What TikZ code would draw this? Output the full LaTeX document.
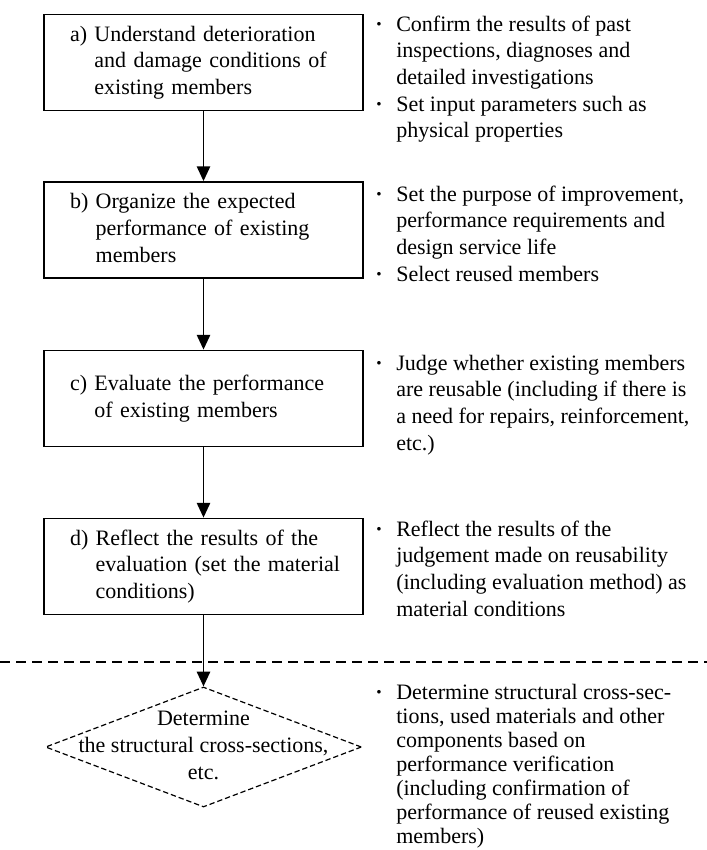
\documentclass[tikz,border=0pt]{standalone}
\usepackage{fontspec}
\setmainfont{Liberation Serif}
\usetikzlibrary{arrows.meta,shapes.geometric}
% bullet column: a centred dot followed by a fixed gap
\newcommand\bulletdot{\makebox[15.75pt][l]{\textbf{·}}}
\begin{document}
\begin{tikzpicture}[x=0.75pt,y=-0.75pt,
  every node/.style={font=\fontsize{16.5pt}{20pt}\selectfont, inner sep=0pt},
  stepbox/.style={draw, line width=1.4pt, minimum width={319*0.75pt},
    minimum height={96*0.75pt}, text width={267*0.75pt}, align=left},
  decision/.style={shape=diamond, draw, line width=0.9pt,
    dash pattern=on 4pt off 2.2pt, minimum width={316*0.75pt},
    minimum height={120*0.75pt}},
  notes/.style={anchor=base west, align=left},
  flow/.style={line width=1.1pt, -{Triangle[length=11pt,width=10pt]}},
  sepline/.style={line width=0.9pt, dash pattern=on 7.5pt off 4.5pt}]
\useasboundingbox (0,0) rectangle (707,850);

% process steps
\node[stepbox] (a) at (203.5,62.5) {\begin{tabular}{@{}l@{\ }l@{}}a) & Understand deterioration\\ & and damage conditions of\\ & existing members\end{tabular}};
\node[stepbox] (b) at (203.5,230) {\begin{tabular}{@{}l@{\ }l@{}}b) & Organize the expected\\ & performance of existing\\ & members\end{tabular}};
\node[stepbox] (c) at (203.5,398.5) {\begin{tabular}{@{}l@{\ }l@{}}c) & Evaluate the performance\\ & of existing members\end{tabular}};
\node[stepbox] (d) at (203.5,566.5) {\begin{tabular}{@{}l@{\ }l@{}}d) & Reflect the results of the\\ & evaluation (set the material\\ & conditions)\end{tabular}};

% final decision
\node[decision] (e) at (203.5,747) {};
\node (etext) at (e.center) {\begin{tabular}{@{}c@{}}Determine\\the structural cross-sections,\\etc.\end{tabular}};

% boundary line
\coordinate (dl) at (0,662);
\coordinate (dr) at (707,662);
\draw[sepline] (dl) -- (dr);

% connectors
\draw[flow] (a) -- (b);
\draw[flow] (b) -- (c);
\draw[flow] (c) -- (d);
\draw[flow] (d) -- (e);

% notes beside each step
\node[notes] (na) at (375,31) {\begin{tabular}[t]{@{}l@{}l@{}}
\bulletdot & Confirm the results of past\\
 & inspections, diagnoses and\\
 & detailed investigations\\
\bulletdot & Set input parameters such as\\
 & physical properties\end{tabular}};
\node[notes] (nb) at (375,201) {\begin{tabular}[t]{@{}l@{}l@{}}
\bulletdot & Set the purpose of improvement,\\
 & performance requirements and\\
 & design service life\\
\bulletdot & Select reused members\end{tabular}};
\node[notes] (nc) at (375,370) {\begin{tabular}[t]{@{}l@{}l@{}}
\bulletdot & Judge whether existing members\\
 & are reusable (including if there is\\
 & a need for repairs, reinforcement,\\
 & etc.)\end{tabular}};
\node[notes] (nd) at (375,536) {\begin{tabular}[t]{@{}l@{}l@{}}
\bulletdot & Reflect the results of the\\
 & judgement made on reusability\\
 & (including evaluation method) as\\
 & material conditions\end{tabular}};
\node[notes, font=\fontsize{16.5pt}{18pt}\selectfont] (ne) at (375,699) {\begin{tabular}[t]{@{}l@{}l@{}}
\bulletdot & Determine structural cross-sec-\\
 & tions, used materials and other\\
 & components based on\\
 & performance verification\\
 & (including confirmation of\\
 & performance of reused existing\\
 & members)\end{tabular}};
\end{tikzpicture}
\end{document}
